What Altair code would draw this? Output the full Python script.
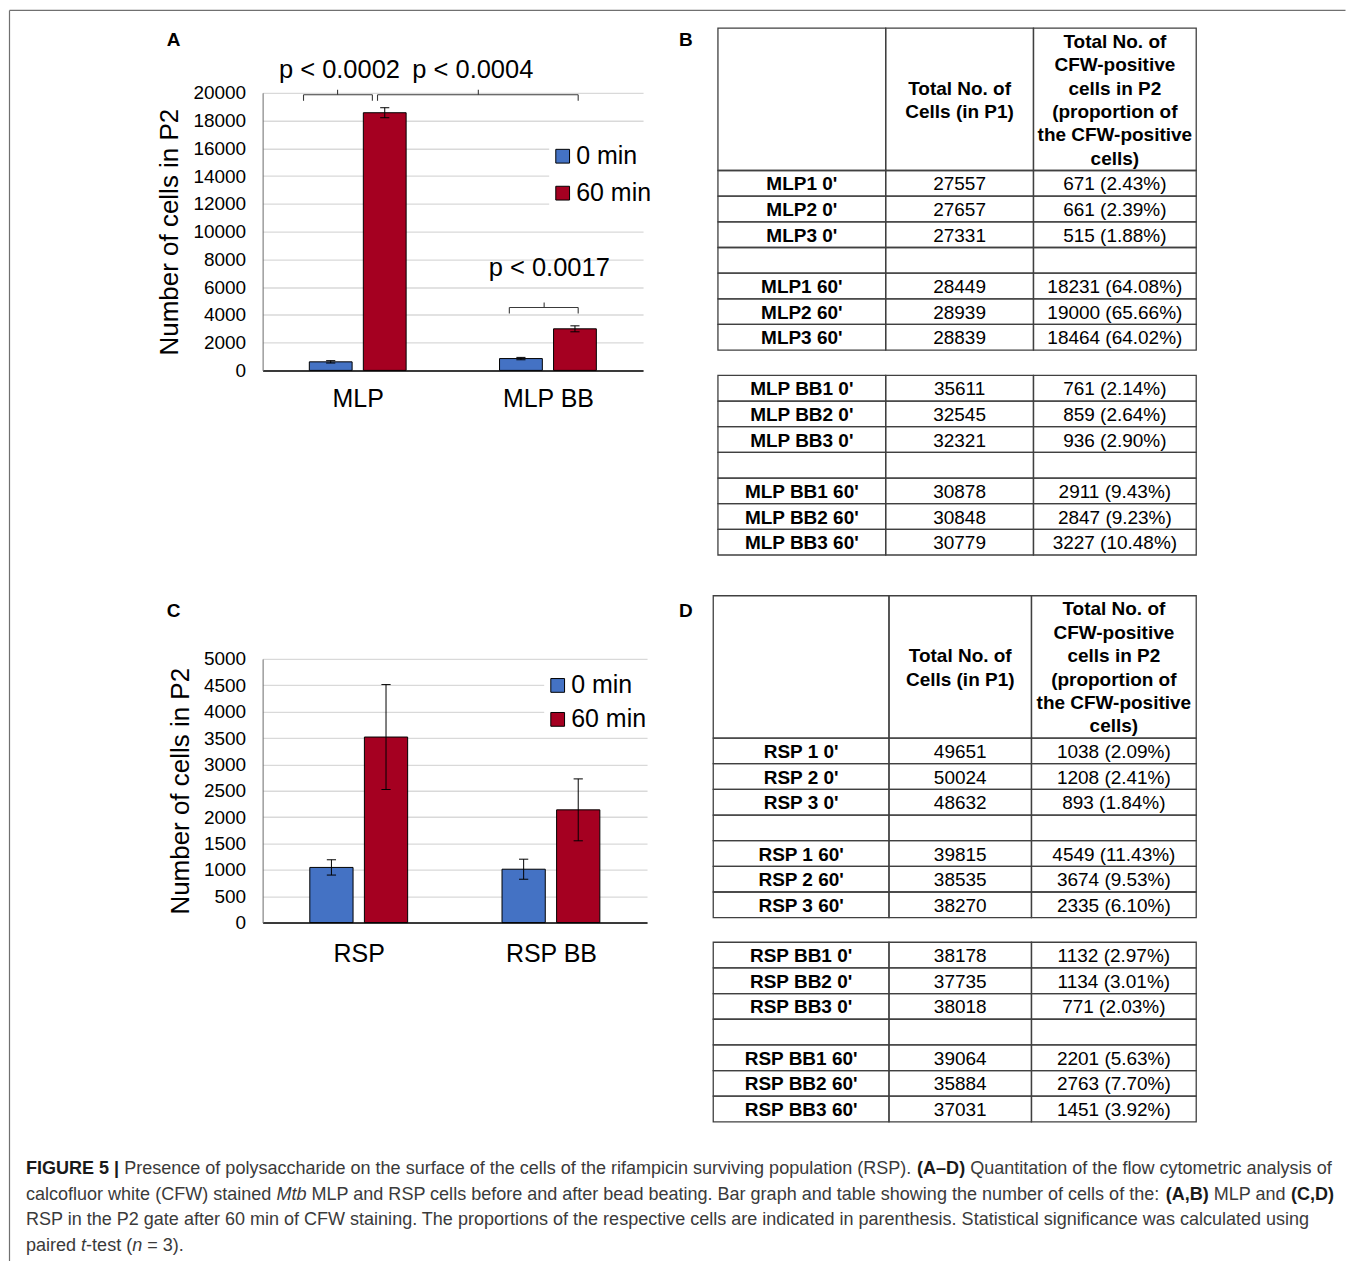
import altair as alt
import pandas as pd

FONT = "Liberation Sans"

# ---------------- data ----------------
series_names = ["0 min", "60 min"]
series_colors = ["#4472C4", "#A50021"]

a_groups = ["MLP", "MLP BB"]
a_mean_0 = [616, 852]
a_mean_60 = [18565, 2995]
a_err_0 = [85, 85]
a_err_60 = [360, 215]
a_yticks = list(range(0, 20001, 2000))

c_groups = ["RSP", "RSP BB"]
c_mean_0 = [1046, 1012]
c_mean_60 = [3519, 2138]
c_err_0 = [145, 190]
c_err_60 = [995, 587]
c_yticks = list(range(0, 5001, 500))

# significance annotations of panel A (x in category units, y in data units)
p_labels = ["p < 0.0002", "p < 0.0004", "p < 0.0017"]
p_x = [0.404, 1.105, 1.507]
p_y = [21655, 21655, 7410]
bracket_left = [0.215, 0.604, 1.297]
bracket_right = [0.577, 1.659, 1.659]
bracket_mid = [0.394, 1.134, 1.480]
bracket_line = [19856, 19856, 4532]
bracket_end = [19424, 19424, 4101]
bracket_tip = [20216, 20216, 4892]

# tables
header_col2 = "Total No. of\nCells (in P1)"
header_col3 = "Total No. of\nCFW-positive\ncells in P2\n(proportion of\nthe CFW-positive\ncells)"

mlp_names = ["MLP1 0'", "MLP2 0'", "MLP3 0'", "MLP1 60'", "MLP2 60'", "MLP3 60'"]
mlp_p1 = [27557, 27657, 27331, 28449, 28939, 28839]
mlp_p2 = [671, 661, 515, 18231, 19000, 18464]
mlp_pct = ["2.43", "2.39", "1.88", "64.08", "65.66", "64.02"]

mlpbb_names = ["MLP BB1 0'", "MLP BB2 0'", "MLP BB3 0'", "MLP BB1 60'", "MLP BB2 60'", "MLP BB3 60'"]
mlpbb_p1 = [35611, 32545, 32321, 30878, 30848, 30779]
mlpbb_p2 = [761, 859, 936, 2911, 2847, 3227]
mlpbb_pct = ["2.14", "2.64", "2.90", "9.43", "9.23", "10.48"]

rsp_names = ["RSP 1 0'", "RSP 2 0'", "RSP 3 0'", "RSP 1 60'", "RSP 2 60'", "RSP 3 60'"]
rsp_p1 = [49651, 50024, 48632, 39815, 38535, 38270]
rsp_p2 = [1038, 1208, 893, 4549, 3674, 2335]
rsp_pct = ["2.09", "2.41", "1.84", "11.43", "9.53", "6.10"]

rspbb_names = ["RSP BB1 0'", "RSP BB2 0'", "RSP BB3 0'", "RSP BB1 60'", "RSP BB2 60'", "RSP BB3 60'"]
rspbb_p1 = [38178, 37735, 38018, 39064, 35884, 37031]
rspbb_p2 = [1132, 1134, 771, 2201, 2763, 1451]
rspbb_pct = ["2.97", "3.01", "2.03", "5.63", "7.70", "3.92"]

panel_letters = ["A", "B", "C", "D"]

caption_lines = [
    [("b", "FIGURE 5 |"),
     ("r", " Presence of polysaccharide on the surface of the cells of the rifampicin surviving population (RSP). "),
     ("b", "(A\u2013D)"),
     ("r", " Quantitation of the flow cytometric analysis of")],
    [("r", "calcofluor white (CFW) stained "), ("i", "Mtb"),
     ("r", " MLP and RSP cells before and after bead beating. Bar graph and table showing the number of cells of the: "),
     ("b", "(A,B)"), ("r", " MLP and "), ("b", "(C,D)")],
    [("r", "RSP in the P2 gate after 60 min of CFW staining. The proportions of the respective cells are indicated in parenthesis. Statistical significance was calculated using")],
    [("r", "paired "), ("i", "t"), ("r", "-test ("), ("i", "n"), ("r", " = 3).")],
]

# ---------------- layout constants (pixels) ----------------
COL0_W, COL1_W, COL2_W = 254, 385, 700
ROW0_H, ROW1_H, ROW2_H = 84, 567, 264
A_W, A_H = 381, 278
C_W, C_H = 385, 264
HEADER_H, ROW_H, HEAD_LH = 142.5, 25.7, 23.4
LINE_COLOR = "#404040"

# ---------------- helpers ----------------
def spacer(w, h):
    return alt.Chart(pd.DataFrame({"v": [0]})).mark_point(opacity=0, size=1).encode(
        x=alt.value(1), y=alt.value(1)).properties(width=w, height=h)


def bar_panel(groups, m0, m60, e0, e60, ymax, yticks, width, height,
              leg_x, leg_y, leg_rowpad, xlab_pad, with_annot=False):
    off, half, cap = 0.142, 0.1125, 0.024
    rows = []
    for i, g in enumerate(groups):
        for s, v, e, sgn in ((series_names[0], m0[i], e0[i], -1),
                             (series_names[1], m60[i], e60[i], 1)):
            xc = i + 0.5 + sgn * off
            rows.append(dict(group=g, series=s, value=v, base=0, xc=xc, x0=xc - half,
                             x1=xc + half, lo=v - e, hi=v + e, ca=xc - cap, cb=xc + cap))
    df = pd.DataFrame(rows)
    xs = alt.Scale(domain=[0, 2], nice=False, zero=False)
    ys = alt.Scale(domain=[0, ymax], nice=False, zero=False)
    expr = f"datum.value < 1 ? '{groups[0]}' : '{groups[1]}'"
    xaxis = alt.Axis(values=[0.5, 1.5], labelExpr=expr, grid=False, ticks=False,
                     domainColor="black", domainWidth=1.5, labelFontSize=25,
                     labelColor="black", labelPadding=xlab_pad, title=None)
    yaxis = alt.Axis(values=yticks, format="d", grid=True, gridColor="#d9d9d9", gridWidth=1.3,
                     ticks=False, domainColor="#6b6b6b", domainWidth=1,
                     labelFontSize=19, labelColor="black", labelPadding=17,
                     title="Number of cells in P2", titleFontSize=26,
                     titleFontWeight="normal", titleColor="black", titlePadding=10)
    base = alt.Chart(df)
    bars = base.mark_bar(stroke="black", strokeWidth=1).encode(
        x=alt.X("x0:Q", scale=xs, axis=xaxis), x2="x1:Q",
        y=alt.Y("value:Q", scale=ys, axis=yaxis), y2="base:Q",
        color=alt.Color("series:N",
                        scale=alt.Scale(domain=series_names, range=series_colors),
                        legend=alt.Legend(orient="none", legendX=leg_x, legendY=leg_y,
                                          title=None, symbolType="square", symbolSize=190,
                                          symbolStrokeColor="black", symbolStrokeWidth=1,
                                          symbolOpacity=1, labelFontSize=25,
                                          labelColor="black", labelOffset=1,
                                          rowPadding=leg_rowpad, fillColor="white",
                                          padding=1)))
    err = base.mark_rule(color="black", strokeWidth=1).encode(
        x=alt.X("xc:Q", scale=xs, axis=xaxis),
        y=alt.Y("lo:Q", scale=ys, axis=yaxis), y2="hi:Q")
    cap_hi = base.mark_rule(color="black", strokeWidth=1).encode(
        x=alt.X("ca:Q", scale=xs, axis=xaxis), x2="cb:Q",
        y=alt.Y("hi:Q", scale=ys, axis=yaxis))
    cap_lo = base.mark_rule(color="black", strokeWidth=1).encode(
        x=alt.X("ca:Q", scale=xs, axis=xaxis), x2="cb:Q",
        y=alt.Y("lo:Q", scale=ys, axis=yaxis))
    layers = [bars, err, cap_hi, cap_lo]
    if with_annot:
        br = []
        for xl, xr, xm, yl, ye, yt in zip(bracket_left, bracket_right, bracket_mid,
                                           bracket_line, bracket_end, bracket_tip):
            br += [dict(xa=xl, xb=xr, ya=yl, yb=yl), dict(xa=xl, xb=xl, ya=yl, yb=ye),
                   dict(xa=xr, xb=xr, ya=yl, yb=ye), dict(xa=xm, xb=xm, ya=yl, yb=yt)]
        bdf = pd.DataFrame(br)
        layers.append(alt.Chart(bdf).mark_rule(color="#3a3a3a", strokeWidth=1.1).encode(
            x=alt.X("xa:Q", scale=xs, axis=xaxis), x2="xb:Q",
            y=alt.Y("ya:Q", scale=ys, axis=yaxis), y2="yb:Q"))
        pdf = pd.DataFrame(dict(t=p_labels, px=p_x, py=p_y))
        layers.append(alt.Chart(pdf).mark_text(fontSize=25.5, color="black",
                                              baseline="middle").encode(
            x=alt.X("px:Q", scale=xs, axis=xaxis),
            y=alt.Y("py:Q", scale=ys, axis=yaxis), text="t:N"))
    return alt.layer(*layers).properties(width=width, height=height)


def table_panel(width, height, cols, parts):
    rects, texts = [], []
    for top, with_header, names, p1, p2, pct in parts:
        y = top
        if with_header:
            for ci in range(3):
                rects.append(dict(x0=cols[ci], x1=cols[ci + 1], y0=y, y1=y + HEADER_H))
            for ci, ht in ((1, header_col2), (2, header_col3)):
                nl = ht.count("\n") + 1
                texts.append(dict(x=(cols[ci] + cols[ci + 1]) / 2,
                                  y=y + HEADER_H / 2 - (nl - 1) / 2 * HEAD_LH + 1,
                                  t=ht, kind="head"))
            y += HEADER_H
        recs = list(zip(names, p1, p2, pct))
        recs = recs[:3] + [None] + recs[3:]
        for r in recs:
            for ci in range(3):
                rects.append(dict(x0=cols[ci], x1=cols[ci + 1], y0=y, y1=y + ROW_H))
            if r is not None:
                n, a, b, pc = r
                cy = y + ROW_H / 2 + 1
                texts.append(dict(x=(cols[0] + cols[1]) / 2, y=cy, t=n, kind="name"))
                texts.append(dict(x=(cols[1] + cols[2]) / 2, y=cy, t=str(a), kind="val"))
                texts.append(dict(x=(cols[2] + cols[3]) / 2, y=cy, t=f"{b} ({pc}%)", kind="val"))
            y += ROW_H
    rdf, tdf = pd.DataFrame(rects), pd.DataFrame(texts)
    xs = alt.Scale(domain=[0, width], nice=False, zero=False)
    ys = alt.Scale(domain=[0, height], nice=False, zero=False, reverse=True)
    cells = alt.Chart(rdf).mark_rect(fillOpacity=0, stroke=LINE_COLOR, strokeWidth=1.3).encode(
        x=alt.X("x0:Q", scale=xs, axis=None), x2="x1:Q",
        y=alt.Y("y0:Q", scale=ys, axis=None), y2="y1:Q")
    tb = alt.Chart(tdf)
    head = tb.transform_filter(alt.datum.kind == "head").mark_text(
        fontSize=19, fontWeight="bold", color="black", lineBreak="\n", lineHeight=HEAD_LH,
        baseline="middle", align="center").encode(
        x=alt.X("x:Q", scale=xs, axis=None), y=alt.Y("y:Q", scale=ys, axis=None), text="t:N")
    name = tb.transform_filter(alt.datum.kind == "name").mark_text(
        fontSize=19, fontWeight="bold", color="black", baseline="middle", align="center").encode(
        x=alt.X("x:Q", scale=xs, axis=None), y=alt.Y("y:Q", scale=ys, axis=None), text="t:N")
    val = tb.transform_filter(alt.datum.kind == "val").mark_text(
        fontSize=19, color="black", baseline="middle", align="center").encode(
        x=alt.X("x:Q", scale=xs, axis=None), y=alt.Y("y:Q", scale=ys, axis=None), text="t:N")
    return alt.layer(cells, head, name, val).properties(width=width, height=height)


# Arial / Liberation Sans advance widths (1/1000 em) for caption layout
REG_W = {' ': 278, "'": 191, '(': 333, ')': 333, ',': 278, '-': 333, '.': 278, ':': 278,
         '=': 584, '|': 260, '\u2013': 556, '<': 584,
         'A': 667, 'B': 667, 'C': 722, 'D': 722, 'E': 667, 'F': 611, 'G': 778, 'H': 722,
         'I': 278, 'J': 500, 'K': 667, 'L': 556, 'M': 833, 'N': 722, 'O': 778, 'P': 667,
         'Q': 778, 'R': 722, 'S': 667, 'T': 611, 'U': 722, 'V': 667, 'W': 944, 'X': 667,
         'Y': 667, 'Z': 611,
         'a': 556, 'b': 556, 'c': 500, 'd': 556, 'e': 556, 'f': 278, 'g': 556, 'h': 556,
         'i': 222, 'j': 222, 'k': 500, 'l': 222, 'm': 833, 'n': 556, 'o': 556, 'p': 556,
         'q': 556, 'r': 333, 's': 500, 't': 278, 'u': 556, 'v': 500, 'w': 722, 'x': 500,
         'y': 500, 'z': 500}
BOLD_W = {' ': 278, "'": 238, '(': 333, ')': 333, ',': 278, '-': 333, '.': 278, ':': 333,
          '|': 280, '\u2013': 556,
          'A': 722, 'B': 722, 'C': 722, 'D': 722, 'E': 667, 'F': 611, 'G': 778, 'H': 722,
          'I': 278, 'J': 556, 'K': 722, 'L': 611, 'M': 833, 'N': 722, 'O': 778, 'P': 667,
          'Q': 778, 'R': 722, 'S': 667, 'T': 611, 'U': 722, 'V': 667, 'W': 944, 'X': 667,
          'Y': 667, 'Z': 611,
          'a': 556, 'b': 611, 'c': 556, 'd': 611, 'e': 556, 'f': 333, 'g': 611, 'h': 611,
          'i': 278, 'j': 278, 'k': 556, 'l': 278, 'm': 889, 'n': 611, 'o': 611, 'p': 611,
          'q': 611, 'r': 389, 's': 556, 't': 333, 'u': 611, 'v': 556, 'w': 778, 'x': 556,
          'y': 556, 'z': 500}


def em(s, bold=False):
    tbl = BOLD_W if bold else REG_W
    return sum(tbl.get(c, 556) for c in s) / 1000.0


def deco_panel():
    W, H = COL0_W, ROW0_H
    xs = alt.Scale(domain=[0, W], nice=False, zero=False)
    ys = alt.Scale(domain=[0, H], nice=False, zero=False, reverse=True)
    frame = pd.DataFrame(dict(xa=[0.5, 0.5], xb=[1338.5, 0.5], ya=[1.5, 1.5], yb=[1.5, 1254]))
    frame_l = alt.Chart(frame).mark_rule(color="#707070", strokeWidth=1.2).encode(
        x=alt.X("xa:Q", scale=xs, axis=None), x2="xb:Q",
        y=alt.Y("ya:Q", scale=ys, axis=None), y2="yb:Q")
    letters = pd.DataFrame(dict(t=panel_letters, lx=[158, 671, 158, 671], ly=[31, 31, 603, 603]))
    letters_l = alt.Chart(letters).mark_text(fontSize=19, fontWeight="bold", color="black",
                                             align="left", baseline="middle").encode(
        x=alt.X("lx:Q", scale=xs, axis=None), y=alt.Y("ly:Q", scale=ys, axis=None), text="t:N")
    # caption layout
    targets = [1306, 1314, 1285]
    fs = sum(t / sum(em(s, st == "b") for st, s in caption_lines[i])
             for i, t in enumerate(targets)) / len(targets)
    line_y = [1162, 1188, 1213, 1239]
    rows = []
    for li, segs in enumerate(caption_lines):
        cur = 0.0
        for st, s in segs:
            bold = st == "b"
            lead = len(s) - len(s.lstrip(" "))
            core = s.strip(" ")
            rows.append(dict(t=core, st=st, cx=17 + (cur + em(" " * lead, bold)) * fs,
                             cy=line_y[li]))
            cur += em(s, bold)
    cdf = pd.DataFrame(rows)
    cb = alt.Chart(cdf)
    enc = dict(x=alt.X("cx:Q", scale=xs, axis=None), y=alt.Y("cy:Q", scale=ys, axis=None),
               text="t:N")
    cap_r = cb.transform_filter(alt.datum.st == "r").mark_text(
        fontSize=fs, color="#3a3a3a", align="left", baseline="middle").encode(**enc)
    cap_b = cb.transform_filter(alt.datum.st == "b").mark_text(
        fontSize=fs, fontWeight="bold", color="#1a1a1a", align="left", baseline="middle").encode(**enc)
    cap_i = cb.transform_filter(alt.datum.st == "i").mark_text(
        fontSize=fs, fontStyle="italic", color="#3a3a3a", align="left", baseline="middle").encode(**enc)
    return alt.layer(frame_l, letters_l, cap_r, cap_b, cap_i).properties(width=W, height=H)


# ---------------- panels ----------------
panel_a = bar_panel(a_groups, a_mean_0, a_mean_60, a_err_0, a_err_60, 20000, a_yticks,
                    A_W, A_H, 287, 50, 11, 16, with_annot=True)
panel_c = bar_panel(c_groups, c_mean_0, c_mean_60, c_err_0, c_err_60, 5000, c_yticks,
                    C_W, C_H, 282, 13, 8, 19)

panel_b = table_panel(COL2_W, ROW0_H, [71, 239, 387, 550], [
    (19.3, True, mlp_names, mlp_p1, mlp_p2, mlp_pct),
    (367.0, False, mlpbb_names, mlpbb_p1, mlpbb_p2, mlpbb_pct)])
panel_d = table_panel(COL2_W, ROW1_H, [66.3, 242.3, 385, 550], [
    (503.7, True, rsp_names, rsp_p1, rsp_p2, rsp_pct),
    (850.7, False, rspbb_names, rspbb_p1, rspbb_p2, rspbb_pct)])

cells = [
    deco_panel(), spacer(COL1_W, ROW0_H), panel_b,
    spacer(COL0_W, ROW1_H), panel_a, panel_d,
    spacer(COL0_W, ROW2_H), panel_c, spacer(COL2_W, ROW2_H),
]

chart = alt.concat(*cells, columns=3, spacing=0, bounds="flush", align="each").resolve_scale(
    color="independent").resolve_legend(color="independent").properties(
    padding=0, autosize=alt.AutoSizeParams(type="pad")).configure(
    font=FONT).configure_view(stroke=None)

chart.save("out.html", embed_options={"renderer": "svg", "actions": False})
